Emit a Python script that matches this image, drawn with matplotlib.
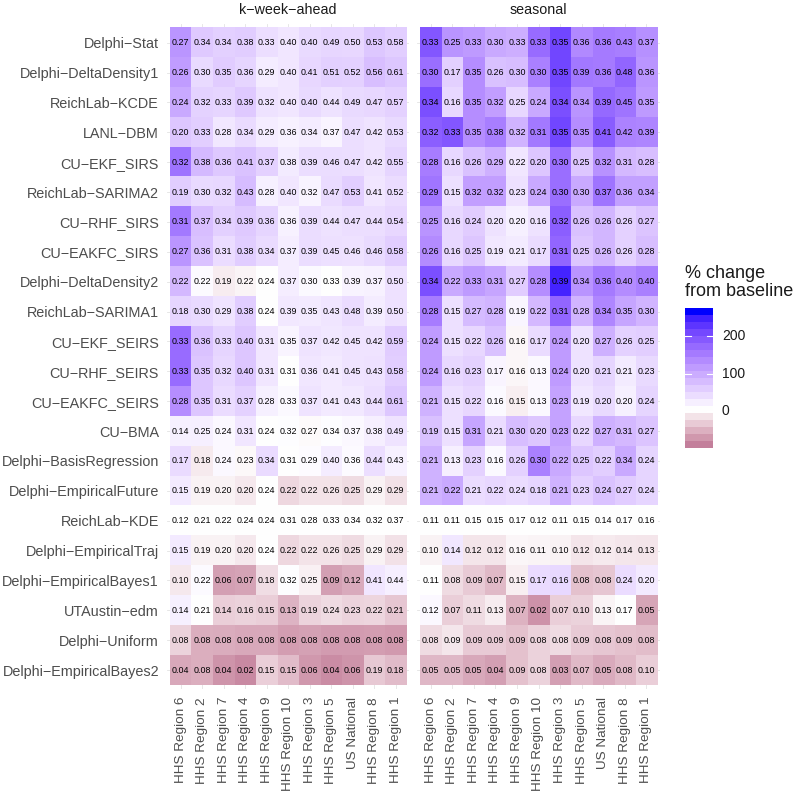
import numpy as np
import matplotlib
matplotlib.use("Agg")
import matplotlib.pyplot as plt
from matplotlib.colors import ListedColormap, Normalize

plt.rcParams["font.family"] = ["Liberation Sans", "DejaVu Sans"]

# models (rows, top to bottom) and regions (columns, left to right)
models = [
    "Delphi-Stat", "Delphi-DeltaDensity1", "ReichLab-KCDE", "LANL-DBM",
    "CU-EKF_SIRS", "ReichLab-SARIMA2", "CU-RHF_SIRS", "CU-EAKFC_SIRS",
    "Delphi-DeltaDensity2", "ReichLab-SARIMA1", "CU-EKF_SEIRS", "CU-RHF_SEIRS",
    "CU-EAKFC_SEIRS", "CU-BMA", "Delphi-BasisRegression", "Delphi-EmpiricalFuture",
    "ReichLab-KDE", "Delphi-EmpiricalTraj", "Delphi-EmpiricalBayes1",
    "UTAustin-edm", "Delphi-Uniform", "Delphi-EmpiricalBayes2",
]
regions = [
    "HHS Region 6", "HHS Region 2", "HHS Region 7", "HHS Region 4",
    "HHS Region 9", "HHS Region 10", "HHS Region 3", "HHS Region 5",
    "US National", "HHS Region 8", "HHS Region 1",
]
panels = ["k-week-ahead", "seasonal"]
baseline_model = "ReichLab-KDE"

kweek_scores = np.array([
    [0.27, 0.34, 0.34, 0.38, 0.33, 0.40, 0.40, 0.49, 0.50, 0.53, 0.58],
    [0.26, 0.30, 0.35, 0.36, 0.29, 0.40, 0.41, 0.51, 0.52, 0.56, 0.61],
    [0.24, 0.32, 0.33, 0.39, 0.32, 0.40, 0.40, 0.44, 0.49, 0.47, 0.57],
    [0.20, 0.33, 0.28, 0.34, 0.29, 0.36, 0.34, 0.37, 0.47, 0.42, 0.53],
    [0.32, 0.38, 0.36, 0.41, 0.37, 0.38, 0.39, 0.46, 0.47, 0.42, 0.55],
    [0.19, 0.30, 0.32, 0.43, 0.28, 0.40, 0.32, 0.47, 0.53, 0.41, 0.52],
    [0.31, 0.37, 0.34, 0.39, 0.36, 0.36, 0.39, 0.44, 0.47, 0.44, 0.54],
    [0.27, 0.36, 0.31, 0.38, 0.34, 0.37, 0.39, 0.45, 0.46, 0.46, 0.58],
    [0.22, 0.22, 0.19, 0.22, 0.24, 0.37, 0.30, 0.33, 0.39, 0.37, 0.50],
    [0.18, 0.30, 0.29, 0.38, 0.24, 0.39, 0.35, 0.43, 0.48, 0.39, 0.50],
    [0.33, 0.36, 0.33, 0.40, 0.31, 0.35, 0.37, 0.42, 0.45, 0.42, 0.59],
    [0.33, 0.35, 0.32, 0.40, 0.31, 0.31, 0.36, 0.41, 0.45, 0.43, 0.58],
    [0.28, 0.35, 0.31, 0.37, 0.28, 0.33, 0.37, 0.41, 0.43, 0.44, 0.61],
    [0.14, 0.25, 0.24, 0.31, 0.24, 0.32, 0.27, 0.34, 0.37, 0.38, 0.49],
    [0.17, 0.18, 0.24, 0.23, 0.34, 0.31, 0.29, 0.40, 0.36, 0.44, 0.43],
    [0.15, 0.19, 0.20, 0.20, 0.24, 0.22, 0.22, 0.26, 0.25, 0.29, 0.29],
    [0.12, 0.21, 0.22, 0.24, 0.24, 0.31, 0.28, 0.33, 0.34, 0.32, 0.37],
    [0.15, 0.19, 0.20, 0.20, 0.24, 0.22, 0.22, 0.26, 0.25, 0.29, 0.29],
    [0.10, 0.22, 0.06, 0.07, 0.18, 0.32, 0.25, 0.09, 0.12, 0.41, 0.44],
    [0.14, 0.21, 0.14, 0.16, 0.15, 0.13, 0.19, 0.24, 0.23, 0.22, 0.21],
    [0.08, 0.08, 0.08, 0.08, 0.08, 0.08, 0.08, 0.08, 0.08, 0.08, 0.08],
    [0.04, 0.08, 0.04, 0.02, 0.15, 0.15, 0.06, 0.04, 0.06, 0.19, 0.18],
])

seasonal_scores = np.array([
    [0.33, 0.25, 0.33, 0.30, 0.33, 0.33, 0.35, 0.36, 0.36, 0.43, 0.37],
    [0.30, 0.17, 0.35, 0.26, 0.30, 0.30, 0.35, 0.39, 0.36, 0.48, 0.36],
    [0.34, 0.16, 0.35, 0.32, 0.25, 0.24, 0.34, 0.34, 0.39, 0.45, 0.35],
    [0.32, 0.33, 0.35, 0.38, 0.32, 0.31, 0.35, 0.35, 0.41, 0.42, 0.39],
    [0.28, 0.16, 0.26, 0.29, 0.22, 0.20, 0.30, 0.25, 0.32, 0.31, 0.28],
    [0.29, 0.15, 0.32, 0.32, 0.23, 0.24, 0.30, 0.30, 0.37, 0.36, 0.34],
    [0.25, 0.16, 0.24, 0.20, 0.20, 0.16, 0.32, 0.26, 0.26, 0.26, 0.27],
    [0.26, 0.16, 0.25, 0.19, 0.21, 0.17, 0.31, 0.25, 0.26, 0.26, 0.28],
    [0.34, 0.22, 0.33, 0.31, 0.27, 0.28, 0.39, 0.34, 0.36, 0.40, 0.40],
    [0.28, 0.15, 0.27, 0.28, 0.19, 0.22, 0.31, 0.28, 0.34, 0.35, 0.30],
    [0.24, 0.15, 0.22, 0.26, 0.16, 0.17, 0.24, 0.20, 0.27, 0.26, 0.25],
    [0.24, 0.16, 0.23, 0.17, 0.16, 0.13, 0.24, 0.20, 0.21, 0.21, 0.23],
    [0.21, 0.15, 0.22, 0.16, 0.15, 0.13, 0.23, 0.19, 0.20, 0.20, 0.24],
    [0.19, 0.15, 0.31, 0.21, 0.30, 0.20, 0.23, 0.22, 0.27, 0.31, 0.27],
    [0.21, 0.13, 0.23, 0.16, 0.26, 0.30, 0.22, 0.25, 0.22, 0.34, 0.24],
    [0.21, 0.22, 0.21, 0.22, 0.24, 0.18, 0.21, 0.23, 0.24, 0.27, 0.24],
    [0.11, 0.11, 0.15, 0.15, 0.17, 0.12, 0.11, 0.15, 0.14, 0.17, 0.16],
    [0.10, 0.14, 0.12, 0.12, 0.16, 0.11, 0.10, 0.12, 0.12, 0.14, 0.13],
    [0.11, 0.08, 0.09, 0.07, 0.15, 0.17, 0.16, 0.08, 0.08, 0.24, 0.20],
    [0.12, 0.07, 0.11, 0.13, 0.07, 0.02, 0.07, 0.10, 0.13, 0.17, 0.05],
    [0.08, 0.09, 0.09, 0.09, 0.09, 0.08, 0.08, 0.09, 0.08, 0.09, 0.08],
    [0.05, 0.05, 0.05, 0.04, 0.09, 0.08, 0.03, 0.07, 0.05, 0.08, 0.10],
])

scale_min, scale_max = -99, 275


def pct_change(scores):
    base = scores[models.index(baseline_model)]
    return (scores - base) / base * 100


# --- colour scale: white -> blue / white -> pink, interpolated in Lab like ggplot
WHITE = np.array([0.95047, 1.0, 1.08883])
M = np.array([[0.4124, 0.3576, 0.1805], [0.2126, 0.7152, 0.0722], [0.0193, 0.1192, 0.9505]])


def to_lab(rgb):
    c = np.asarray(rgb, float)
    lin = np.where(c <= 0.04045, c / 12.92, ((c + 0.055) / 1.055) ** 2.4)
    t = (M @ lin) / WHITE
    f = np.where(t > 0.008856, np.cbrt(t), 7.787 * t + 16 / 116)
    return np.array([116 * f[1] - 16, 500 * (f[0] - f[1]), 200 * (f[1] - f[2])])


def from_lab(lab):
    fy = (lab[0] + 16) / 116
    f = np.array([fy + lab[1] / 500, fy, fy - lab[2] / 200])
    t = np.where(f > 0.206893, f ** 3, (f - 16 / 116) / 7.787) * WHITE
    lin = np.linalg.solve(M, t)
    c = np.where(lin <= 0.0031308, 12.92 * lin, 1.055 * np.clip(lin, 0, None) ** (1 / 2.4) - 0.055)
    return np.clip(c, 0, 1)


lab_white = to_lab([1, 1, 1])
lab_high = to_lab([0, 0, 1])
lab_low = to_lab(np.array([196, 128, 155]) / 255)
cols = []
for v in np.linspace(scale_min, scale_max, 256):
    if v < 0:
        t = v / scale_min
        cols.append(from_lab(lab_white + t * (lab_low - lab_white)))
    else:
        t = v / scale_max
        cols.append(from_lab(lab_white + t * (lab_high - lab_white)))
cmap = ListedColormap(cols)
norm = Normalize(scale_min, scale_max)

# --- layout (pixels)
W, H = 793, 797
fig = plt.figure(figsize=(W / 100, H / 100), dpi=100)
m = 0.12
tile_boxes = [(170, 406.5), (420, 657)]
top, bottom = 27.8, 685
n_r, n_c = len(models), len(regions)
row_h = (bottom - top) / n_r

for k, (name, scores) in enumerate(zip(panels, [kweek_scores, seasonal_scores])):
    x0, x1 = tile_boxes[k]
    col_w = (x1 - x0) / n_c
    ax_l = x0 - m * col_w
    ax_w = (x1 - x0) + 2 * m * col_w
    ax_t = top - m * row_h
    ax_h = (bottom - top) + 2 * m * row_h
    ax = fig.add_axes([ax_l / W, 1 - (ax_t + ax_h) / H, ax_w / W, ax_h / H])

    pct = pct_change(scores)
    ax.imshow(pct, cmap=cmap, norm=norm, aspect="auto", interpolation="nearest",
              extent=(-0.5, n_c - 0.5, n_r - 0.5, -0.5), zorder=2)
    for i in range(n_r):
        for j in range(n_c):
            ax.text(j, i, f"{scores[i, j]:.2f}", ha="center", va="center",
                    fontsize=6.4, color="black", zorder=3)

    ax.set_xlim(-0.5 - m, n_c - 0.5 + m)
    ax.set_ylim(n_r - 0.5 + m, -0.5 - m)
    ax.set_xticks(range(n_c))
    ax.set_yticks(range(n_r))
    ax.set_xticklabels(regions, rotation=90, fontsize=9.7, color="#4D4D4D")
    if k == 0:
        ax.set_yticklabels([s.replace("-", "\u2212") for s in models],
                           fontsize=10.4, color="#4D4D4D")
    else:
        ax.set_yticklabels([])
    ax.tick_params(length=0, pad=6)
    ax.grid(color="#e3e3e3", lw=0.6, zorder=0)
    ax.set_axisbelow(True)
    for s in ax.spines.values():
        s.set_visible(False)

    fig.text((x0 + x1) / 2 / W, 1 - 10 / H, name.replace("-", "\u2212"),
             ha="center", va="center", fontsize=10.3, color="#1A1A1A")

# --- colour bar legend
cb_x0, cb_x1, cb_t, cb_b = 685, 713, 308, 448
cax = fig.add_axes([cb_x0 / W, 1 - cb_b / H, (cb_x1 - cb_x0) / W, (cb_b - cb_t) / H])
nbin = 20
bins = np.linspace(scale_min, scale_max, nbin)
cax.imshow(bins[::-1, None], cmap=cmap, norm=norm, aspect="auto",
           extent=(0, 1, scale_min, scale_max), interpolation="nearest")
cax.set_xlim(0, 1)
cax.set_ylim(scale_min, scale_max)
for tv in [0, 100, 200]:
    cax.plot([0, 0.2], [tv, tv], color="white", lw=0.8)
    cax.plot([0.8, 1], [tv, tv], color="white", lw=0.8)
    fig.text(722 / W, (1 - cb_b / H) + (tv - scale_min) / (scale_max - scale_min) * (cb_b - cb_t) / H,
             str(tv), ha="left", va="center", fontsize=10, color="#1A1A1A")
cax.set_xticks([])
cax.set_yticks([])
for s in cax.spines.values():
    s.set_visible(False)

fig.text(685 / W, 1 - 282.5 / H, "% change\nfrom baseline", ha="left", va="center",
         fontsize=13, linespacing=1.05, color="#1A1A1A")

fig.savefig("out.png", dpi=100)
